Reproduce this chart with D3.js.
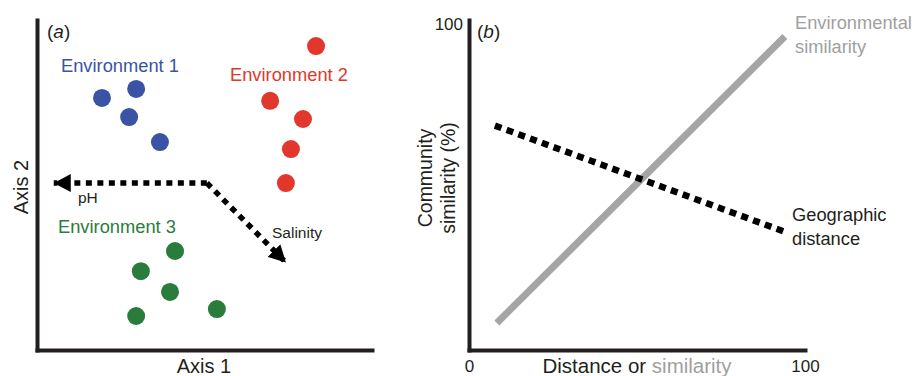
<!DOCTYPE html>
<meta charset="utf-8">
<title>Community similarity</title>
<script src="https://d3js.org/d3.v7.min.js"></script>
<style>
body { margin:0; background:#fff; }
svg { font-family: Arial, "Liberation Sans", Helvetica, sans-serif; }
.axis .domain { stroke:#231f20; stroke-width:4; stroke-linecap:square; }
.axis text { font-size:17px; fill:#231f20; }
</style>
<svg width="915" height="376"></svg>
<script>

// panel (a) ordination points, in axis units 0-100
var env1X = [19.4, 29.6, 27.5, 36.7],
    env1Y = [76.4, 79.1, 70.6, 63.0];
var env2X = [83.3, 69.6, 79.4, 75.8, 74.3],
    env2Y = [92.1, 75.5, 70.0, 60.9, 50.6];
var env3X = [41.2, 31.0, 39.7, 29.6, 53.7],
    env3Y = [30.0, 23.9, 17.6, 10.3, 12.4];
var envNames = ["Environment 1", "Environment 2", "Environment 3"];

// environmental vectors: origin and tips
var vecOrigin = [50.7, 50.6];
var vecNames = ["pH", "Salinity"],
    vecTipX = [5.0, 74.3],
    vecTipY = [50.6, 26.5];

// panel (b) trend lines (x = distance or similarity, y = community similarity)
var envSimX = [8.3, 94],
    envSimY = [8.2, 95];
var geoDistX = [7.7, 93.5],
    geoDistY = [68, 36];
var tickLabels = [0, 100];

var svg = d3.select("svg");
var dark = "#231f20";

// ---------- panel (a)
var xa = d3.scaleLinear().domain([0, 100]).range([37, 372]),
    ya = d3.scaleLinear().domain([0, 100]).range([350, 20]);

svg.append("g").attr("class", "axis")
    .attr("transform", "translate(0," + ya(0) + ")")
    .call(d3.axisBottom(xa).tickValues([]).tickSizeOuter(0));
svg.append("g").attr("class", "axis")
    .attr("transform", "translate(" + xa(0) + ",0)")
    .call(d3.axisLeft(ya).tickValues([]).tickSizeOuter(0));

svg.append("text").attr("x", 47).attr("y", 38)
    .style("font-size", "19px").attr("fill", dark)
    .html('(<tspan font-style="italic">a</tspan>)');

svg.append("text").attr("x", 204).attr("y", 373)
    .attr("text-anchor", "middle").style("font-size", "20px").attr("fill", dark)
    .text("Axis 1");
svg.append("text").attr("transform", "translate(28,187) rotate(-90)")
    .attr("text-anchor", "middle").style("font-size", "20px").attr("fill", dark)
    .text("Axis 2");

var groups = [
  {xs: env1X, ys: env1Y, color: "#3a53a4", lx: 61, ly: 72},
  {xs: env2X, ys: env2Y, color: "#e2372c", lx: 230, ly: 81},
  {xs: env3X, ys: env3Y, color: "#2a7c3c", lx: 58, ly: 233}
];

groups.forEach(function(gr, i) {
  svg.append("g").selectAll("circle")
    .data(d3.range(gr.xs.length))
    .enter().append("circle")
      .attr("cx", function(j) { return xa(gr.xs[j]); })
      .attr("cy", function(j) { return ya(gr.ys[j]); })
      .attr("r", 9)
      .attr("fill", gr.color);
  svg.append("text").attr("x", gr.lx).attr("y", gr.ly)
      .style("font-size", "18.3px").attr("fill", gr.color)
      .text(envNames[i]);
});

var defs = svg.append("defs");
defs.append("marker")
    .attr("id", "head")
    .attr("markerUnits", "userSpaceOnUse")
    .attr("viewBox", "0 0 17 18")
    .attr("refX", 17).attr("refY", 9)
    .attr("markerWidth", 17).attr("markerHeight", 18)
    .attr("orient", "auto")
  .append("path")
    .attr("d", "M0,0L17,9L0,18Z")
    .attr("fill", "#000");

vecNames.forEach(function(n, i) {
  svg.append("line")
      .attr("x1", xa(vecOrigin[0])).attr("y1", ya(vecOrigin[1]))
      .attr("x2", xa(vecTipX[i])).attr("y2", ya(vecTipY[i]))
      .attr("stroke", "#000").attr("stroke-width", 5.5)
      .attr("stroke-dasharray", "6,5.5")
      .attr("marker-end", "url(#head)");
});
svg.append("text").attr("x", 78).attr("y", 203)
    .style("font-size", "15.5px").attr("fill", dark).text(vecNames[0]);
svg.append("text").attr("x", 272).attr("y", 238)
    .style("font-size", "15.5px").attr("fill", dark).text(vecNames[1]);

// ---------- panel (b)
var xb = d3.scaleLinear().domain([0, 100]).range([469, 805]),
    yb = d3.scaleLinear().domain([0, 100]).range([350, 20]);

svg.append("g").attr("class", "axis")
    .attr("transform", "translate(0," + yb(0) + ")")
    .call(d3.axisBottom(xb).tickValues(tickLabels).tickSize(0).tickPadding(10));
svg.append("g").attr("class", "axis")
    .attr("transform", "translate(" + xb(0) + ",0)")
    .call(d3.axisLeft(yb).tickValues([100]).tickSize(0).tickPadding(6))
  .selectAll("text").attr("dy", "0.55em");

svg.append("text").attr("x", 477).attr("y", 38)
    .style("font-size", "19px").attr("fill", dark)
    .html('(<tspan font-style="italic">b</tspan>)');

var line = d3.line()
    .x(function(d) { return xb(d[0]); })
    .y(function(d) { return yb(d[1]); });

svg.append("path")
    .datum(d3.zip(envSimX, envSimY))
    .attr("d", line)
    .attr("fill", "none").attr("stroke", "#a5a5a5").attr("stroke-width", 7);

svg.append("path")
    .datum(d3.zip(geoDistX, geoDistY))
    .attr("d", line)
    .attr("fill", "none").attr("stroke", "#000").attr("stroke-width", 6.5)
    .attr("stroke-dasharray", "7,5.5");

var envLab = svg.append("text").style("font-size", "18.3px").attr("fill", "#a0a0a0");
envLab.append("tspan").attr("x", 795).attr("y", 29).text("Environmental");
envLab.append("tspan").attr("x", 795).attr("y", 53).text("similarity");

var geoLab = svg.append("text").style("font-size", "18.3px").attr("fill", dark);
geoLab.append("tspan").attr("x", 792).attr("y", 221).text("Geographic");
geoLab.append("tspan").attr("x", 792).attr("y", 245).text("distance");

svg.append("text").attr("x", 637).attr("y", 373)
    .attr("text-anchor", "middle").style("font-size", "20.5px").attr("fill", dark)
    .html('Distance or <tspan fill="#a0a0a0">similarity</tspan>');

var yl = svg.append("text").attr("text-anchor", "middle")
    .style("font-size", "19.5px").attr("fill", dark)
    .attr("transform", "translate(0,178) rotate(-90)");
yl.append("tspan").attr("x", 0).attr("y", 432).text("Community");
yl.append("tspan").attr("x", 0).attr("y", 455).text("similarity (%)");

</script>
</html>
